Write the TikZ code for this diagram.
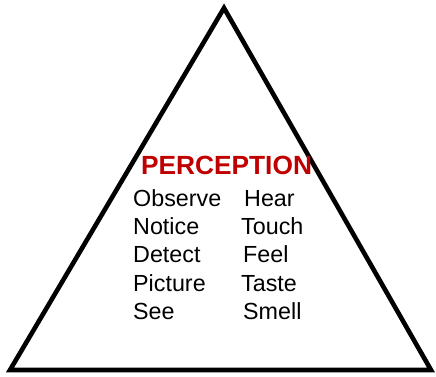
\documentclass[tikz,border=0pt]{standalone}
\usepackage{fontspec}
\setmainfont{Liberation Sans}
\definecolor{percred}{HTML}{C00000}
\begin{document}
\begin{tikzpicture}[x=1pt,y=-1pt,
  word/.style={anchor=base west,inner sep=0pt,font=\fontsize{23.3}{27}\selectfont},
  title/.style={anchor=base,inner sep=0pt,text=percred,font=\fontsize{26.3}{30}\selectfont\bfseries},
  tri/.style={draw=black,line width=4.6pt,line join=miter}]
\useasboundingbox (0,0) rectangle (436,376);
\coordinate (top) at (224,8);
\coordinate (bl) at (10,370);
\coordinate (br) at (431,370);
\draw[tri] (top) -- (br) -- (bl) -- cycle;
\node[title] (t) at (226.5,174) {PERCEPTION};
\node[word] (l1) at (133,206) {Observe};
\node[word] (l2) at (133,234) {Notice};
\node[word] (l3) at (133,262) {Detect};
\node[word] (l4) at (133,291) {Picture};
\node[word] (l5) at (133,319) {See};
\node[word] (r1) at (244,206) {Hear};
\node[word] (r2) at (241,234) {Touch};
\node[word] (r3) at (243,262) {Feel};
\node[word] (r4) at (241,291) {Taste};
\node[word] (r5) at (243,319) {Smell};
\end{tikzpicture}
\end{document}
